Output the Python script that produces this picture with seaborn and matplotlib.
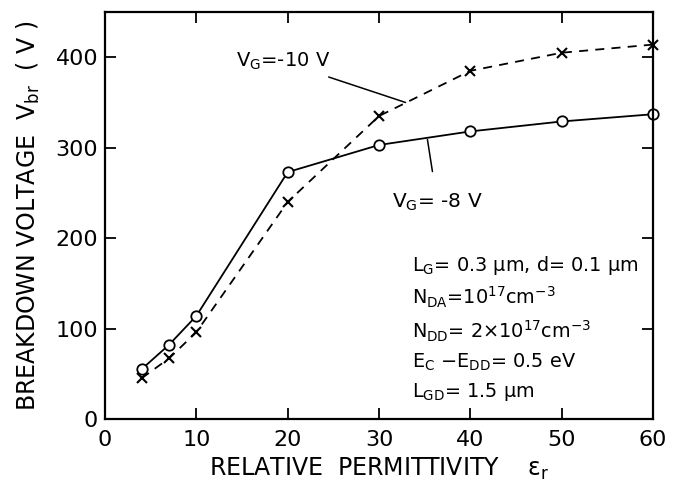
import matplotlib
matplotlib.use("Agg")
import matplotlib.pyplot as plt
import seaborn as sns
import pandas as pd

permittivity = [4, 7, 10, 20, 30, 40, 50, 60]
vbr_vg8 = [55, 82, 114, 273, 303, 318, 329, 337]
vbr_vg10 = [45, 67, 96, 240, 335, 385, 405, 414]
x_ticks = [0, 10, 20, 30, 40, 50, 60]
y_ticks = [0, 100, 200, 300, 400]

sns.set_style("ticks", {"axes.edgecolor": "black", "text.color": "black",
                        "axes.labelcolor": "black", "xtick.color": "black",
                        "ytick.color": "black"})
plt.rcParams['font.family'] = ['DejaVu Sans']
plt.rcParams['mathtext.default'] = 'regular'

fig = plt.figure(figsize=(6.78, 4.87), dpi=100)
ax = fig.add_axes([0.1549, 0.1396, 0.8083, 0.8357])

df8 = pd.DataFrame({"x": permittivity, "y": vbr_vg8})
df10 = pd.DataFrame({"x": permittivity, "y": vbr_vg10})

sns.lineplot(data=df8, x="x", y="y", ax=ax, color="black", lw=1.3,
             marker="o", markersize=7.5, markerfacecolor="white",
             markeredgecolor="black", markeredgewidth=1.3, clip_on=False)
sns.lineplot(data=df10, x="x", y="y", ax=ax, color="black", lw=1.3,
             linestyle=(0, (5, 4)), marker="x", markersize=6.5,
             markeredgecolor="black", markeredgewidth=1.5, clip_on=False)

ax.set_xlim(0, 60)
ax.set_ylim(0, 450)
ax.set_xticks(x_ticks)
ax.set_yticks(y_ticks)
ax.tick_params(direction="in", length=8, width=1.3, labelsize=16,
               top=True, right=True, colors="black")
ax.tick_params(axis="x", pad=8)
ax.tick_params(axis="y", pad=5)
for s in ax.spines.values():
    s.set_linewidth(1.6)
    s.set_color("black")

ax.set_xlabel(r"RELATIVE  PERMITTIVITY    $\varepsilon_r$", fontsize=17,
              labelpad=4, color="black")
ax.set_ylabel(r"BREAKDOWN VOLTAGE  $V_{br}$  ( V )", fontsize=17,
              labelpad=10, color="black")

ax.annotate(r"$V_G$=-10 V", xy=(32.9, 350), xytext=(14.3, 395),
            fontsize=14, va="center", ha="left", color="black",
            arrowprops=dict(arrowstyle="-", color="black", lw=1.1,
                            shrinkA=3, shrinkB=0))
ax.annotate(r"$V_G$= -8 V", xy=(35.3, 309), xytext=(31.4, 240),
            fontsize=14.5, va="center", ha="left", color="black",
            arrowprops=dict(arrowstyle="-", color="black", lw=1.1,
                            shrinkA=12, shrinkB=0))

params = [r"$L_G$= 0.3 μm, d= 0.1 μm",
          r"$N_{DA}$=$10^{17}$cm$^{-3}$",
          r"$N_{DD}$= 2×$10^{17}$cm$^{-3}$",
          r"$E_C$ −$E_{DD}$= 0.5 eV",
          r"$L_{GD}$= 1.5 μm"]
ys = [170, 134, 97, 63, 30]
for t, yy in zip(params, ys):
    ax.text(33.6, yy, t, fontsize=13.9, va="center", ha="left", color="black")

fig.savefig("out.png", dpi=100)
